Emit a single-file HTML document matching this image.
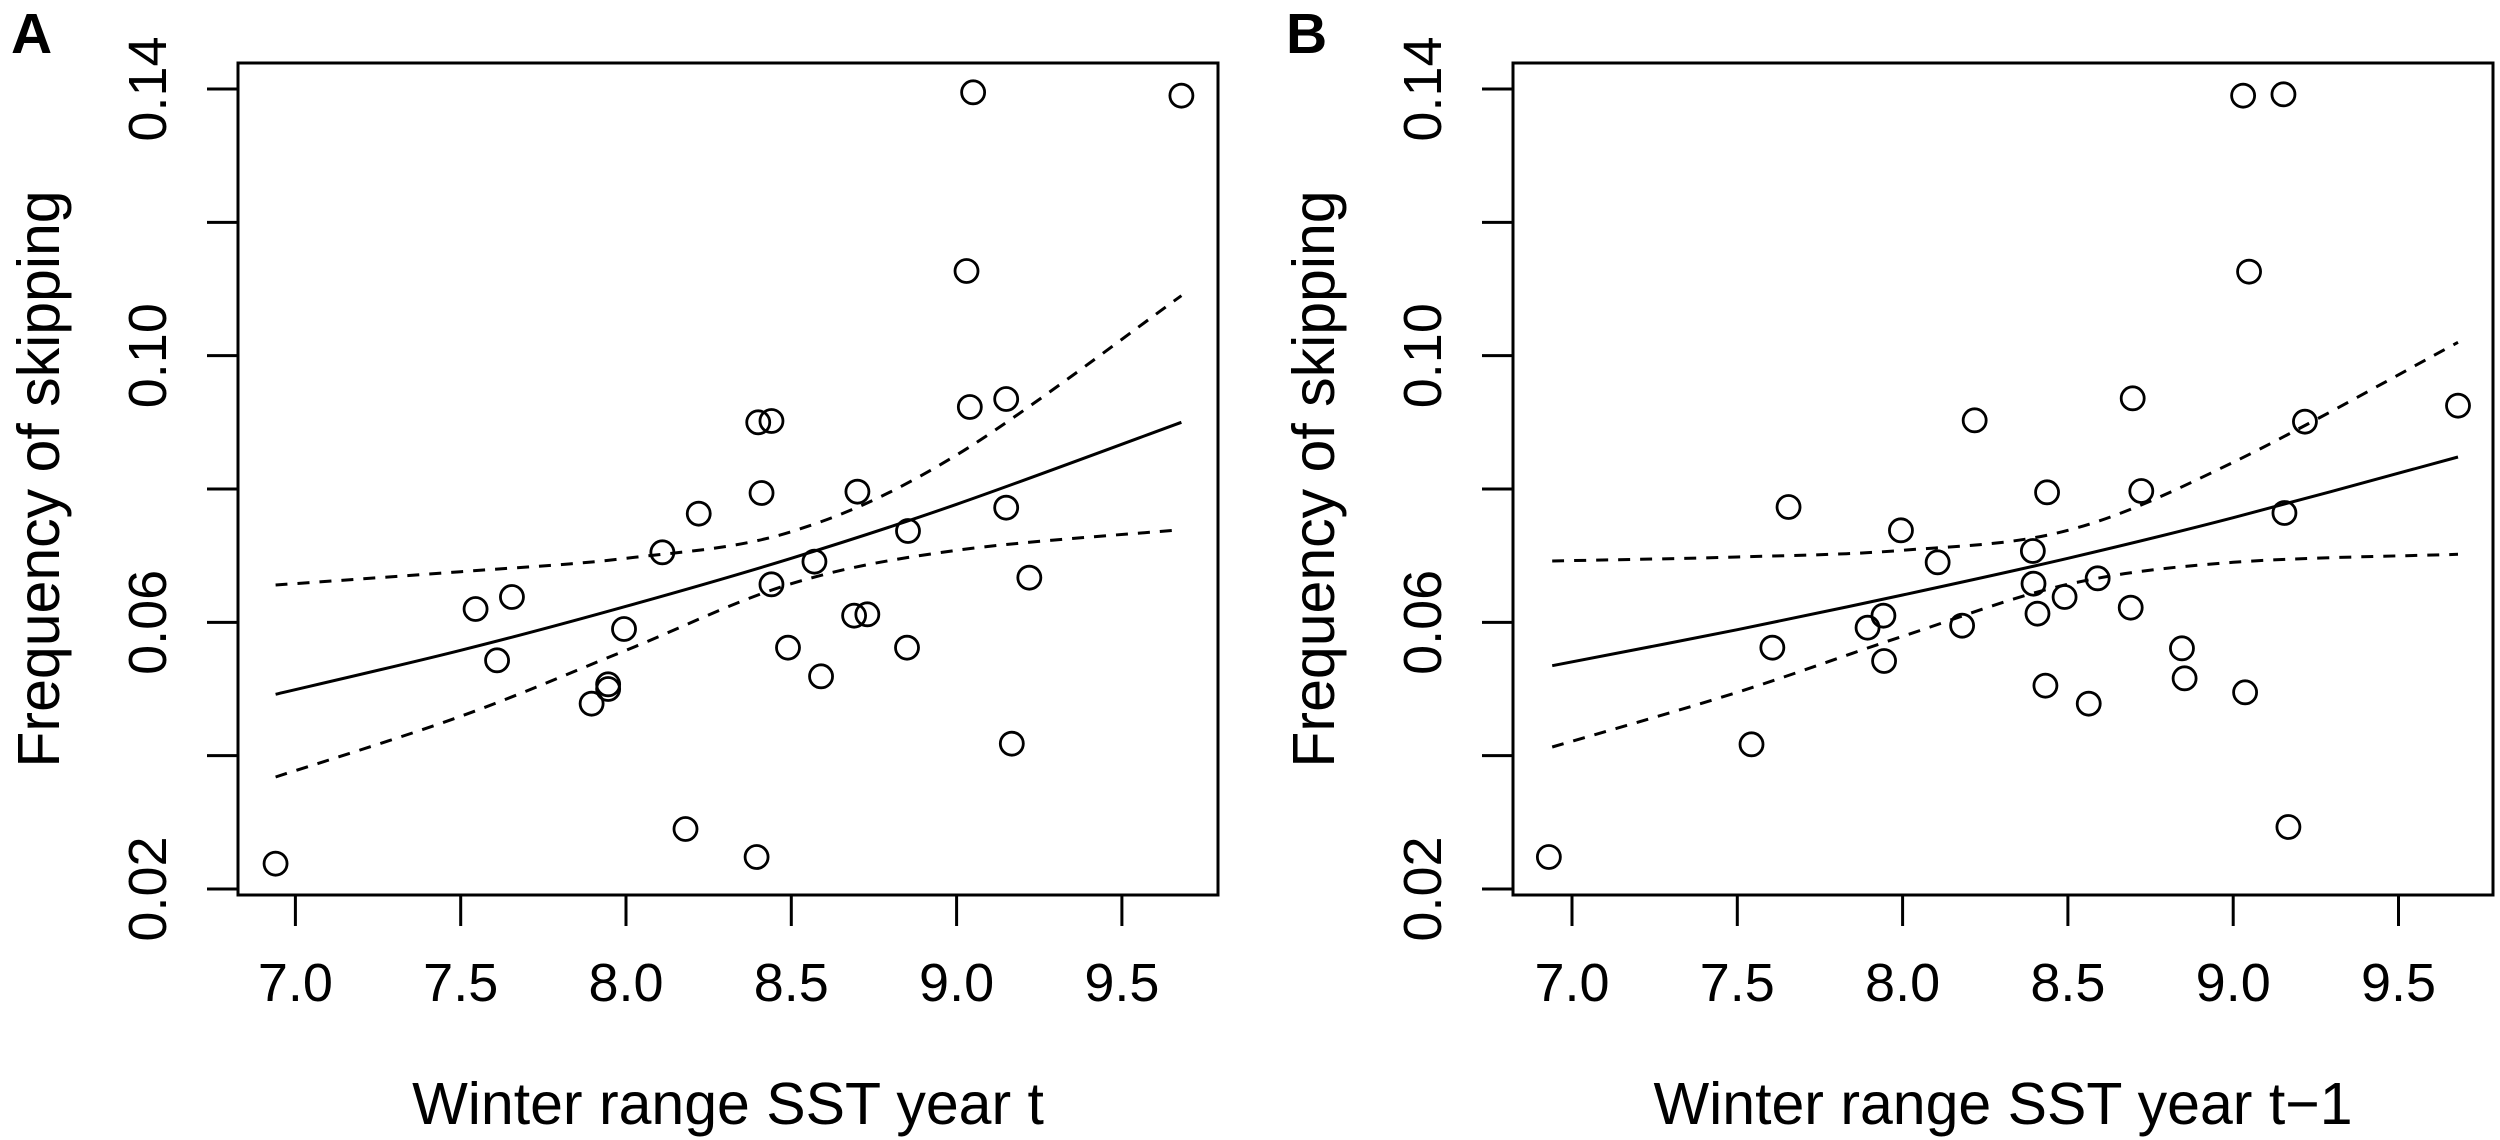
<!DOCTYPE html>
<html><head><meta charset="utf-8"><style>
html,body{margin:0;padding:0;background:#fff;}
svg{display:block;font-family:"Liberation Sans",Arial,sans-serif;}
</style></head><body>
<svg id="fig" width="2500" height="1140" viewBox="0 0 2500 1140" xmlns="http://www.w3.org/2000/svg"></svg>
<script>
// ---- data ----
const xTicks = [7.0, 7.5, 8.0, 8.5, 9.0, 9.5];
const xTickLabels = ["7.0","7.5","8.0","8.5","9.0","9.5"];
const yTicks = [0.02, 0.04, 0.06, 0.08, 0.10, 0.12, 0.14];
const yTickLabels = ["0.02","","0.06","","0.10","","0.14"];

const aX = [6.94,7.545,7.61,7.655,7.896,7.946,7.946,7.994,8.11,8.18,8.22,8.395,8.40,8.41,8.44,8.44,8.49,8.57,8.59,8.70,8.69,8.73,8.853,8.85,9.03,9.05,9.04,9.15,9.15,9.167,9.22,9.68];
const aY = [0.0238,0.062,0.0543,0.0638,0.0478,0.050,0.0507,0.059,0.0705,0.029,0.0763,0.0248,0.090,0.0794,0.0657,0.0902,0.0562,0.0691,0.0519,0.0796,0.061,0.0612,0.0737,0.0562,0.1127,0.1395,0.0923,0.0935,0.0772,0.0418,0.0667,0.139];
const bX = [6.93,7.543,7.606,7.655,7.894,7.942,7.944,7.995,8.106,8.18,8.218,8.394,8.396,8.408,8.432,8.437,8.49,8.563,8.59,8.69,8.696,8.722,8.845,8.853,9.03,9.036,9.048,9.152,9.155,9.167,9.217,9.68];
const bY = [0.0248,0.0417,0.0562,0.0773,0.0592,0.061,0.0542,0.0738,0.069,0.0595,0.0903,0.0707,0.0658,0.0613,0.0505,0.0795,0.0638,0.0478,0.0666,0.0622,0.0936,0.0797,0.0561,0.0516,0.139,0.0495,0.1126,0.1392,0.0764,0.0293,0.0901,0.0925];

const fitX = [6.94, 7.5, 8.0, 8.5, 9.0, 9.68];
const aFit = [0.0492,0.0558,0.0624,0.0696,0.0777,0.090];
const aUpper = [0.0656,0.0676,0.0696,0.0736,0.0851,0.109];
const aLower = [0.0368,0.0459,0.0558,0.0658,0.0708,0.0739];
const bFit = [0.0535,0.0589,0.0641,0.0696,0.0757,0.0848];
const bUpper = [0.0692,0.0698,0.0708,0.0738,0.0840,0.1020];
const bLower = [0.0413,0.0495,0.0579,0.0657,0.0690,0.0702];

// ---- drawing ----
const NS = "http://www.w3.org/2000/svg";
const svg = document.getElementById('fig');
function mk(tag, attrs, parent){const e=document.createElementNS(NS,tag);for(const k in attrs)e.setAttribute(k,attrs[k]);(parent||svg).appendChild(e);return e;}

function smoothPath(pts){
  let d = "M"+pts[0][0].toFixed(1)+","+pts[0][1].toFixed(1);
  for(let i=0;i<pts.length-1;i++){
    const p0=pts[Math.max(0,i-1)],p1=pts[i],p2=pts[i+1],p3=pts[Math.min(pts.length-1,i+2)];
    const c1=[p1[0]+(p2[0]-p0[0])/6,p1[1]+(p2[1]-p0[1])/6];
    const c2=[p2[0]-(p3[0]-p1[0])/6,p2[1]-(p3[1]-p1[1])/6];
    d+=" C"+c1[0].toFixed(1)+","+c1[1].toFixed(1)+" "+c2[0].toFixed(1)+","+c2[1].toFixed(1)+" "+p2[0].toFixed(1)+","+p2[1].toFixed(1);
  }
  return d;
}

function panel(opts){
  const g = mk('g',{});
  
  
  const L=opts.left, R=opts.left+980, T=63, B=895;
  const x0=opts.x7; // pixel for x=7.0
  const sx = v => x0 + (v-7.0)*330.6;
  const sy = v => 889 - (v-0.02)*(800/0.12);

  const lab = mk('text',{x:opts.left-227,y:53,'font-size':57,'font-weight':'bold'},g);
  lab.textContent = opts.letter;
  
  

  const box = mk('rect',{x:L,y:T,width:R-L,height:B-T,fill:'none',stroke:'#000','stroke-width':3},g);
  
  

  xTicks.forEach((t,i)=>{
    const x=sx(t);
    const tk=mk('line',{x1:x,y1:B,x2:x,y2:B+31,stroke:'#000','stroke-width':3},g);
    
    
    const tl=mk('text',{x:x,y:1001,'font-size':54,'text-anchor':'middle'},g);
    tl.textContent=xTickLabels[i];
    
    
  });
  yTicks.forEach((t,i)=>{
    const y=sy(t);
    const tk=mk('line',{x1:L-31,y1:y,x2:L,y2:y,stroke:'#000','stroke-width':3},g);
    
    
    if(yTickLabels[i]){
      const tx=L-72;
      const tl=mk('text',{x:tx,y:y,'font-size':54,'text-anchor':'middle',transform:`rotate(-90 ${tx} ${y})`},g);
      tl.textContent=yTickLabels[i];
      
      
    }
  });
  const xt=mk('text',{x:(L+R)/2,y:1124,'font-size':59,'text-anchor':'middle'},g);
  xt.textContent=opts.xtitle;
  
  
  const ytx=L-179, yty=(T+B)/2;
  const yt=mk('text',{x:ytx,y:yty,'font-size':59,'text-anchor':'middle',transform:`rotate(-90 ${ytx} ${yty})`},g);
  yt.textContent='Frequency of skipping';
  
  

  const curves=[[opts.fit,'fit-line',null],[opts.upper,'upper-ci-line','12 10'],[opts.lower,'lower-ci-line','12 10']];
  curves.forEach(([arr,nm,dash])=>{
    const pts=fitX.map((v,i)=>[sx(v),sy(arr[i])]);
    const a={d:smoothPath(pts),fill:'none',stroke:'#000','stroke-width':3};
    if(dash)a['stroke-dasharray']=dash;
    const p=mk('path',a,g);
    
    
  });

  opts.xs.forEach((v,i)=>{
    const c=mk('circle',{cx:sx(v),cy:sy(opts.ys[i]),r:11.5,fill:'none',stroke:'#000','stroke-width':2.8},g);
    
    
  });
}

panel({name:'panel-a',letter:'A',left:238,x7:295.4,xs:aX,ys:aY,fit:aFit,upper:aUpper,lower:aLower,xtitle:'Winter range SST year t'});
panel({name:'panel-b',letter:'B',left:1513,x7:1572,xs:bX,ys:bY,fit:bFit,upper:bUpper,lower:bLower,xtitle:'Winter range SST year t\u22121'});
</script>
</body></html>
